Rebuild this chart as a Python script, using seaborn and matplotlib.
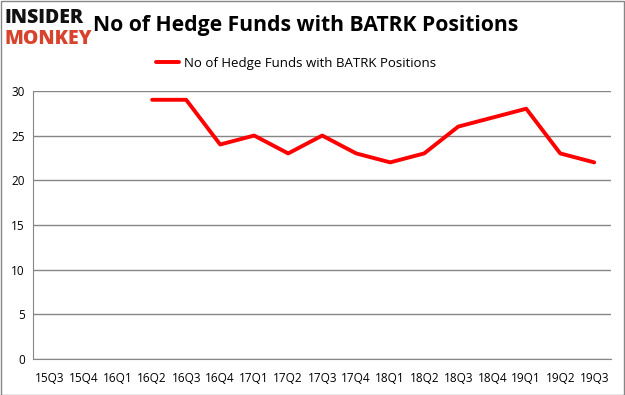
import numpy as np
import pandas as pd
import matplotlib.pyplot as plt
import seaborn as sns
from matplotlib.patches import Rectangle

# quarters and hedge fund counts (no data before 16Q2)
quarters = ["15Q3", "15Q4", "16Q1", "16Q2", "16Q3", "16Q4", "17Q1", "17Q2", "17Q3",
            "17Q4", "18Q1", "18Q2", "18Q3", "18Q4", "19Q1", "19Q2", "19Q3"]
funds = [np.nan, np.nan, np.nan, 29, 29, 24, 25, 23, 25, 23, 22, 23, 26, 27, 28, 23, 22]
series_name = "No of Hedge Funds with BATRK Positions"

df = pd.DataFrame({"quarter": quarters, "funds": funds})

sns.set_style("white")
plt.rcParams['font.family'] = ['Open Sans', 'DejaVu Sans']
plt.rcParams['text.color'] = 'black'
plt.rcParams['xtick.color'] = 'black'
plt.rcParams['ytick.color'] = 'black'

fig = plt.figure(figsize=(6.25, 3.95), dpi=100)
ax = fig.add_axes([0.053, 0.091, 0.925, 0.679])

sns.lineplot(data=df, x="quarter", y="funds", color="#ff0000", linewidth=2.8,
             ax=ax, label=series_name)

ax.set_xlim(-0.5, len(quarters) - 0.5)
ax.set_ylim(0, 30)
ax.set_yticks(range(0, 31, 5))
ax.set_xticks(range(len(quarters)))
ax.set_xticklabels(quarters)
ax.set_xticks(np.arange(-0.5, len(quarters), 1), minor=True)
ax.tick_params(axis="x", which="major", length=0, pad=9, labelsize=8.5)
ax.tick_params(axis="x", which="minor", length=4, color="#868686", direction="out", width=1)
ax.tick_params(axis="y", length=0, labelsize=8.5, pad=6)
ax.grid(axis="y", color="#868686", linewidth=1)
ax.set_axisbelow(True)
for side in ["top", "right"]:
    ax.spines[side].set_visible(False)
for side in ["left", "bottom"]:
    ax.spines[side].set_color("#868686")
ax.set_xlabel("")
ax.set_ylabel("")

ax.legend(loc="lower center", bbox_to_anchor=(0.455, 1.035), frameon=False,
          fontsize=9.5, handlelength=1.7, handletextpad=0.4)

fig.text(0.489, 0.935, "No of Hedge Funds with BATRK Positions", ha="center", va="center",
         fontsize=15.2, fontweight="bold", color="black")
fig.text(0.008, 0.955, "INSIDER", ha="left", va="center", fontsize=14,
         fontweight="heavy", color="#111111")
fig.text(0.008, 0.9, "MONKEY", ha="left", va="center", fontsize=14,
         fontweight="heavy", color="#d8432e")

fig.patches.append(Rectangle((0.001, 0.001), 0.997, 0.997, transform=fig.transFigure,
                             fill=False, edgecolor="#868686", linewidth=1))

fig.savefig("out.png", dpi=100)
